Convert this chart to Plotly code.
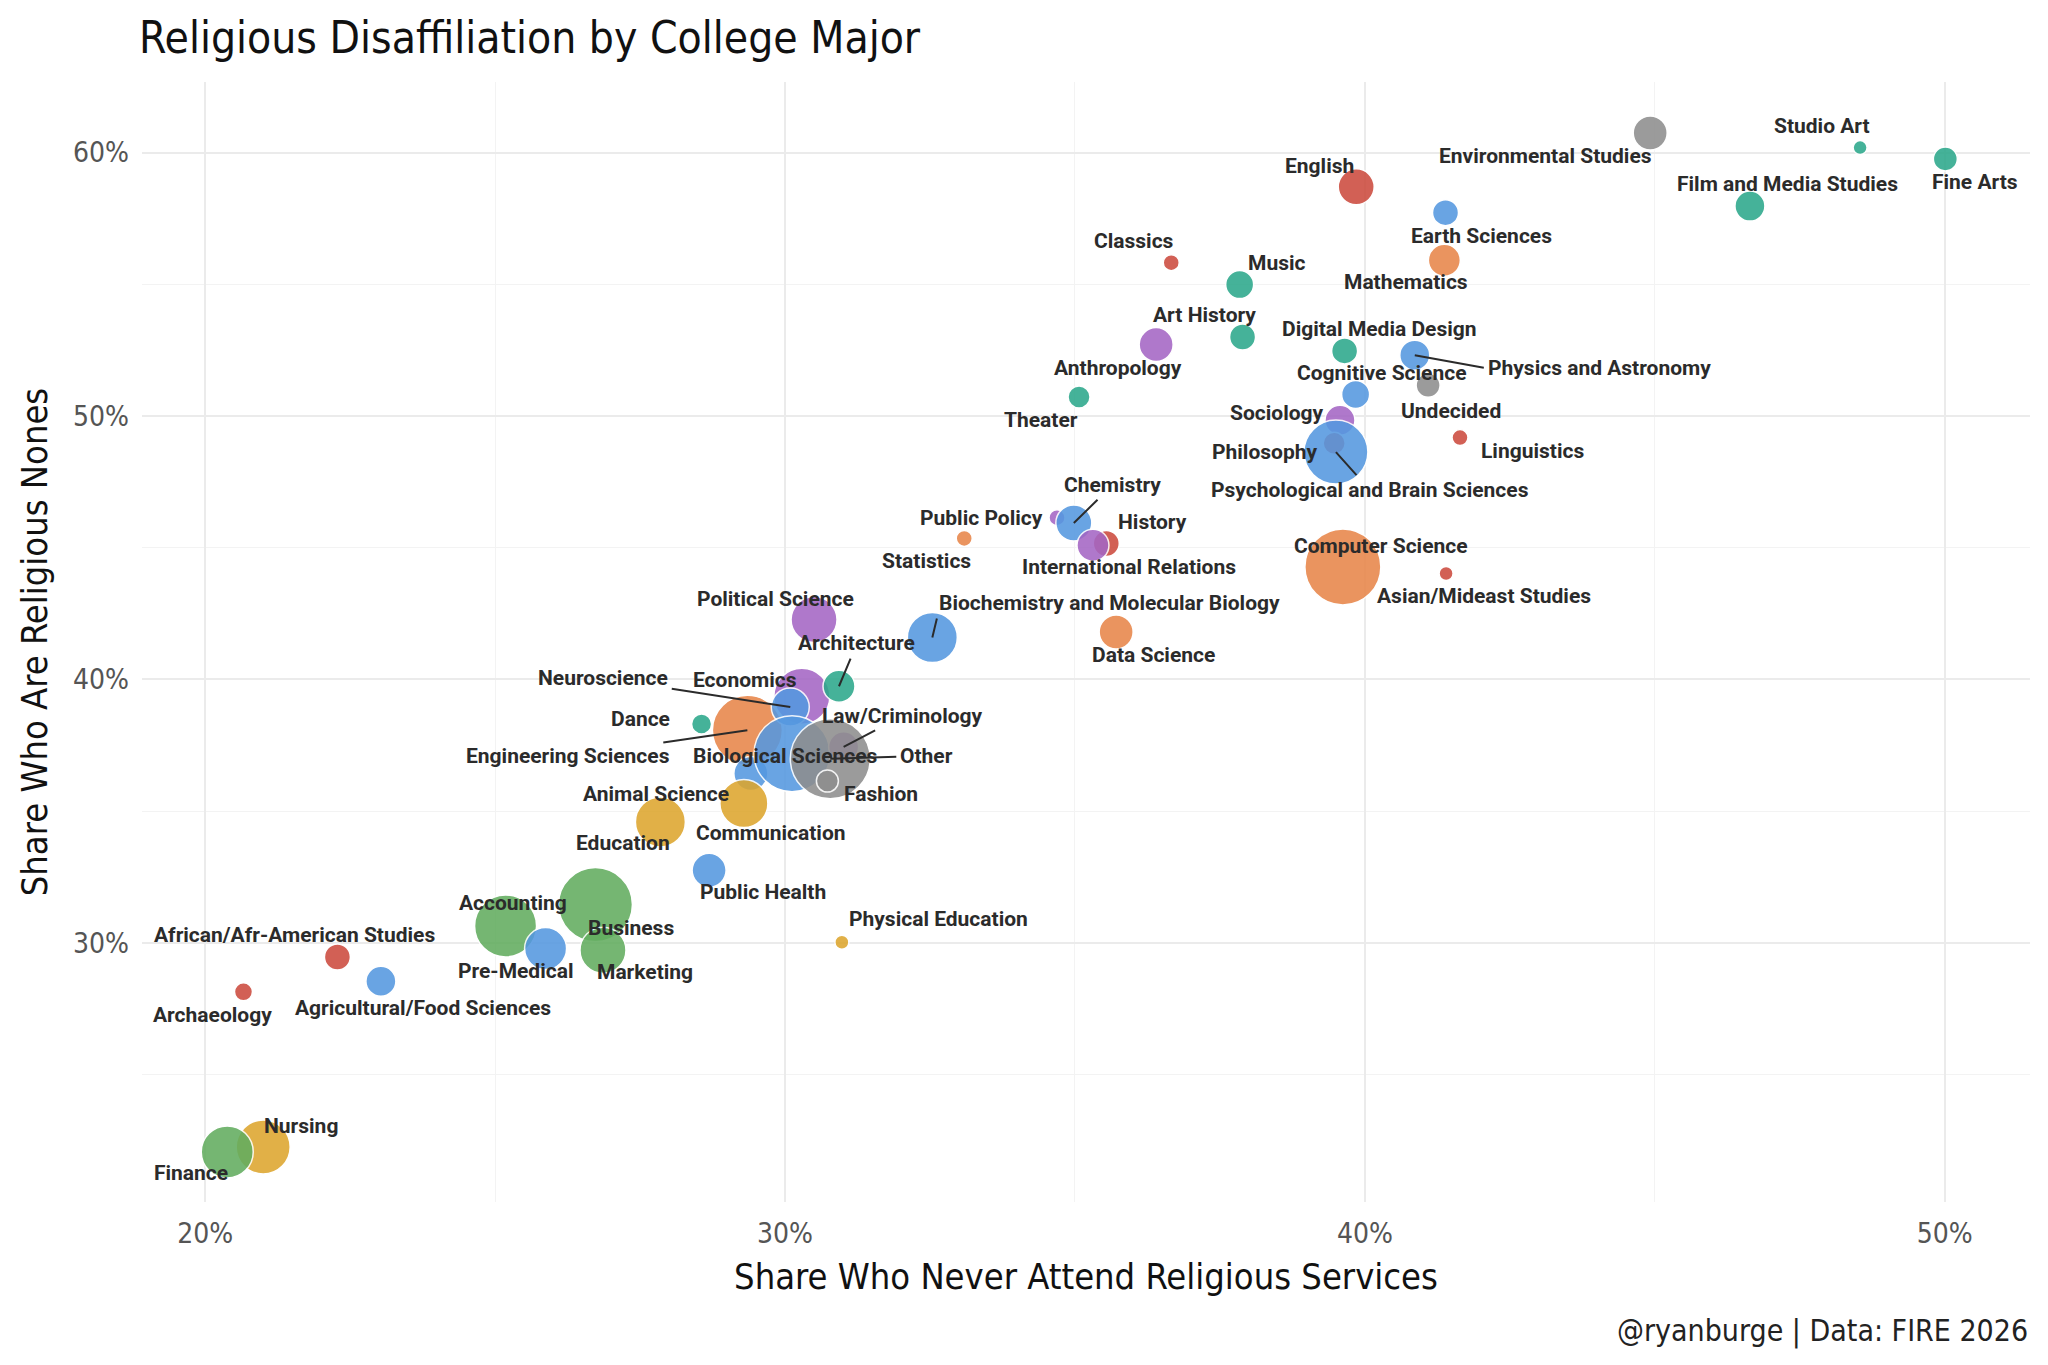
import plotly.graph_objects as go

# values (percent)
majors = [
    "Studio Art", "Fine Arts", "Environmental Studies", "Film and Media Studies",
    "English", "Earth Sciences", "Mathematics", "Classics", "Music", "Art History",
    "Anthropology", "Digital Media Design", "Physics and Astronomy", "Undecided",
    "Cognitive Science", "Theater", "Sociology", "Philosophy",
    "Psychological and Brain Sciences", "Linguistics", "Public Policy", "Chemistry",
    "History", "International Relations", "Statistics", "Computer Science",
    "Asian/Mideast Studies", "Data Science", "Political Science",
    "Biochemistry and Molecular Biology", "Dance", "Engineering Sciences",
    "Economics", "Neuroscience", "Architecture", "Animal Science",
    "Biological Sciences", "Law/Criminology", "Other", "Fashion", "Communication",
    "Education", "Public Health", "Business", "Accounting", "Pre-Medical",
    "Marketing", "Physical Education", "African/Afr-American Studies",
    "Agricultural/Food Sciences", "Archaeology", "Nursing", "Finance",
]
never_attend = [
    48.54, 50.01, 44.92, 46.64,
    39.85, 41.39, 41.37, 36.66, 37.84, 37.89,
    36.40, 39.65, 40.86, 41.09,
    39.84, 35.07, 39.57, 39.47,
    39.50, 41.64, 34.69, 34.98,
    35.54, 35.31, 33.09, 39.62,
    41.40, 35.71, 30.50,
    32.54, 28.56, 29.35,
    30.29, 30.09, 30.93, 29.41,
    30.12, 31.01, 30.78, 30.73, 29.29,
    27.85, 28.69, 26.73, 25.18, 25.87,
    26.86, 30.98, 22.28,
    23.03, 20.66, 21.00, 20.38,
]
nones = [
    60.19, 59.76, 60.74, 57.97,
    58.70, 57.72, 55.91, 55.82, 54.99, 53.00,
    52.71, 52.47, 52.31, 51.17,
    50.82, 50.72, 49.84, 48.97,
    48.63, 49.18, 46.14, 45.94,
    45.16, 45.09, 45.35, 44.27,
    44.02, 41.80, 42.27,
    41.59, 38.31, 38.07,
    39.36, 38.95, 39.74, 36.43,
    37.18, 37.44, 36.99, 36.14, 35.29,
    34.59, 32.75, 31.45, 30.64, 29.78,
    29.72, 30.02, 29.46,
    28.54, 28.14, 22.25, 22.06,
]
# bubble area (relative sample size, estimated from circle size)
sample_n = [
    49, 144, 289, 225,
    324, 169, 256, 64, 196, 169,
    289, 169, 225, 144,
    196, 121, 225, 121,
    1024, 64, 64, 324,
    169, 256, 64, 1444,
    49, 289, 529,
    625, 100, 1225,
    784, 361, 256, 289,
    1444, 225, 1600, 121, 576,
    625, 289, 1369, 961, 441,
    529, 49, 169,
    225, 81, 729, 676,
]
field = [
    "arts", "arts", "other", "arts",
    "humanities", "science", "quant", "humanities", "arts", "arts",
    "social", "arts", "science", "other",
    "science", "arts", "social", "humanities",
    "science", "humanities", "social", "science",
    "humanities", "social", "quant", "quant",
    "humanities", "quant", "social",
    "science", "arts", "quant",
    "social", "science", "arts", "science",
    "science", "social", "other", "other", "professional",
    "professional", "science", "business", "business", "science",
    "business", "professional", "humanities",
    "science", "humanities", "professional", "business",
]

x_ticks = [20, 30, 40, 50]
y_ticks = [30, 40, 50, 60]

field_colors = {
    "arts": "#2CA88B",
    "humanities": "#CC4B3E",
    "social": "#A466C4",
    "science": "#5598E0",
    "quant": "#E8864A",
    "business": "#62AD5F",
    "professional": "#DDA62E",
    "other": "#8E8E8E",
}

# label placement (pixel offset of label centre from its point, +y = down)
label_offset = {
    "Studio Art": (-38, -22), "Fine Arts": (30, 23),
    "Environmental Studies": (-105, 23), "Film and Media Studies": (38, -22),
    "English": (-37, -21), "Earth Sciences": (36, 23), "Mathematics": (-38, 22),
    "Classics": (-37, -22), "Music": (37, -22), "Art History": (-38, -22),
    "Anthropology": (-38, 23), "Digital Media Design": (35, -22),
    "Cognitive Science": (26, -21), "Undecided": (23, 26), "Theater": (-38, 23),
    "Sociology": (-63, -7), "Linguistics": (72, 13), "Philosophy": (-70, 9),
    "Public Policy": (-76, 0), "History": (46, -21),
    "International Relations": (36, 22), "Statistics": (-38, 23),
    "Computer Science": (38, -21), "Asian/Mideast Studies": (38, 22),
    "Data Science": (37, 23), "Political Science": (-39, -21),
    "Economics": (-57, -16), "Dance": (-61, -5), "Biological Sciences": (-7, 2),
    "Fashion": (54, 13), "Animal Science": (-95, 21), "Communication": (27, 30),
    "Education": (-37, 21), "Public Health": (54, 22), "Accounting": (7, -23),
    "Business": (36, 23), "Pre-Medical": (-30, 22), "Marketing": (42, 22),
    "Physical Education": (97, -23), "African/Afr-American Studies": (-43, -22),
    "Agricultural/Food Sciences": (42, 27), "Archaeology": (-31, 23),
    "Nursing": (38, -21), "Finance": (-36, 21),
}
# labels that ggrepel pulled away with a segment: (dx, dy, xanchor, yanchor)
segment_offset = {
    "Physics and Astronomy": (71, 13, "left", "middle"),
    "Psychological and Brain Sciences": (34, 38, "center", "middle"),
    "Chemistry": (39, -38, "center", "middle"),
    "Biochemistry and Molecular Biology": (5, -21, "left", "bottom"),
    "Architecture": (18, -43, "center", "middle"),
    "Neuroscience": (-187, -29, "center", "middle"),
    "Law/Criminology": (59, -31, "center", "middle"),
    "Engineering Sciences": (-179, 26, "center", "middle"),
    "Other": (96, -3, "center", "middle"),
}

narrow = "DejaVu Sans Condensed, Liberation Sans Narrow, Roboto, sans-serif"
label_font = dict(family="Roboto, Noto Sans, sans-serif", size=21, color="#2b2b2b", weight="bold")

fig = go.Figure()
fig.add_trace(go.Scatter(
    x=never_attend, y=nones, mode="markers",
    text=majors, hovertemplate="%{text}<br>Never attend: %{x}%<br>Nones: %{y}%<extra></extra>",
    marker=dict(
        size=sample_n, sizemode="area", sizeref=0.5,
        color=[field_colors[f] for f in field],
        opacity=0.88,
        line=dict(color="white", width=1.5),
    ),
    showlegend=False,
))

annotations = []
for name, xv, yv in zip(majors, never_attend, nones):
    if name in segment_offset:
        dx, dy, xa, ya = segment_offset[name]
        annotations.append(dict(
            x=xv, y=yv, xref="x", yref="y", text=name, font=label_font,
            showarrow=True, arrowhead=0, arrowwidth=2, arrowcolor="#2b2b2b",
            ax=dx, ay=dy, standoff=0, startstandoff=2,
            xanchor=xa, yanchor=ya,
        ))
    else:
        dx, dy = label_offset[name]
        annotations.append(dict(
            x=xv, y=yv, xref="x", yref="y", text=name, font=label_font,
            showarrow=False, xshift=dx, yshift=-dy,
        ))

annotations.append(dict(
    text="@ryanburge | Data: FIRE 2026", xref="paper", yref="paper",
    x=1, y=-0.115, xanchor="right", yanchor="middle", showarrow=False,
    font=dict(family=narrow, size=30, color="#222222"),
))

# the page body has an 8px margin, so the figure is a bit smaller than the window
fig.update_layout(
    width=2032, height=1349,
    margin=dict(l=134, r=10, t=74, b=155),
    paper_bgcolor="white", plot_bgcolor="white",
    title=dict(
        text="Religious Disaffiliation by College Major",
        x=131 / 2032, xanchor="left", xref="container",
        y=1 - 30 / 1349, yanchor="middle", yref="container",
        font=dict(family=narrow, size=44, color="#111111"),
    ),
    annotations=annotations,
    xaxis=dict(
        range=[18.91, 51.47], tickmode="array", tickvals=x_ticks,
        ticktext=[f"{v}%" for v in x_ticks],
        showgrid=True, gridcolor="#EBEBEB", gridwidth=2, zeroline=False,
        minor=dict(dtick=5, tick0=0, showgrid=True, gridcolor="#F3F3F3", gridwidth=1),
        tickfont=dict(family=narrow, size=28, color="#555555"),
        ticklabelstandoff=12,
        title=dict(text="Share Who Never Attend Religious Services",
                   font=dict(family=narrow, size=36, color="#111111"), standoff=14),
    ),
    yaxis=dict(
        range=[20.16, 62.68], tickmode="array", tickvals=y_ticks,
        ticktext=[f"{v}%" for v in y_ticks],
        showgrid=True, gridcolor="#EBEBEB", gridwidth=2, zeroline=False,
        minor=dict(dtick=5, tick0=0, showgrid=True, gridcolor="#F3F3F3", gridwidth=1),
        tickfont=dict(family=narrow, size=28, color="#555555"),
        ticklabelstandoff=12,
        title=dict(text="Share Who Are Religious Nones",
                   font=dict(family=narrow, size=36, color="#111111"), standoff=14),
    ),
)

fig.write_html("out.html")
